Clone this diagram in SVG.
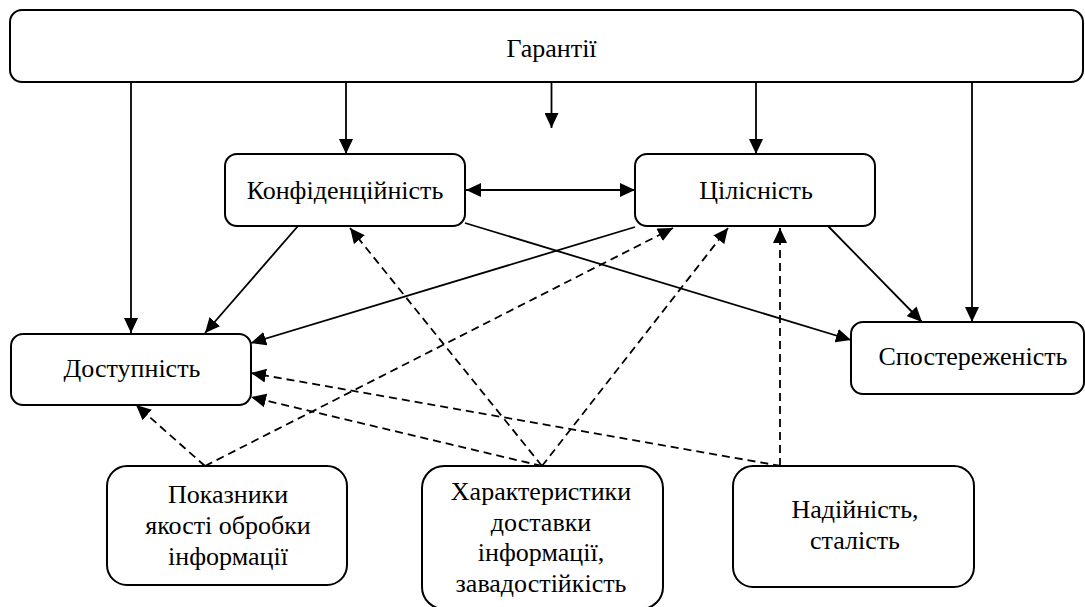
<svg xmlns="http://www.w3.org/2000/svg" width="1085" height="607" viewBox="0 0 1085 607" font-family="'Liberation Serif', 'DejaVu Serif', serif">
<style>
.box{fill:#fff;stroke:#000;stroke-width:2}
.t{font-family:'Liberation Serif','DejaVu Serif',serif;font-size:26px;fill:#000;text-anchor:middle}
.c{fill:none;stroke:#000;stroke-width:1.8}
.d{fill:none;stroke:#000;stroke-width:1.8;stroke-dasharray:8 5}
</style>
<defs>
<marker id="ah" markerUnits="userSpaceOnUse" markerWidth="16" markerHeight="14" refX="15" refY="7" orient="auto-start-reverse" viewBox="0 0 16 14">
<path d="M0,0 L15,7 L0,14 z" fill="#000"/>
</marker>
</defs>
<rect width="1085" height="607" fill="#fff"/>
<g id="connectors">
<path class="c" d="M131,82 V333" marker-end="url(#ah)"/>
<path class="c" d="M346,82 V154" marker-end="url(#ah)"/>
<path class="c" d="M551.5,82 V128" marker-end="url(#ah)"/>
<path class="c" d="M756,82 V154" marker-end="url(#ah)"/>
<path class="c" d="M972,82 V322" marker-end="url(#ah)"/>
<path class="c" d="M466,190 H635" marker-start="url(#ah)" marker-end="url(#ah)"/>
<path class="c" d="M298,226 L205,333" marker-end="url(#ah)"/>
<path class="c" d="M635,227 L251,343" marker-end="url(#ah)"/>
<path class="c" d="M465,223 L851,340" marker-end="url(#ah)"/>
<path class="c" d="M828,226 L922,322" marker-end="url(#ah)"/>
<path class="d" d="M205,466 L136,405" marker-end="url(#ah)"/>
<path class="d" d="M205,466 L673,228" marker-end="url(#ah)"/>
<path class="d" d="M542,466 L350,228" marker-end="url(#ah)"/>
<path class="d" d="M542,466 L728,228" marker-end="url(#ah)"/>
<path class="d" d="M542,466 L251,397" marker-end="url(#ah)"/>
<path class="d" d="M781,466 L251,373" marker-end="url(#ah)"/>
<path class="d" d="M780,466 V228" marker-end="url(#ah)"/>
</g>
<g id="garantii">
<rect class="box" x="10" y="10" width="1073" height="72" rx="12"/>
<text class="t" x="551.5" y="57">Гарантії</text>
</g>
<g id="konfidentsiinist">
<rect class="box" x="225" y="154" width="240" height="72" rx="12"/>
<text class="t" x="345" y="199">Конфіденційність</text>
</g>
<g id="tsilisnist">
<rect class="box" x="635" y="154" width="240" height="72" rx="12"/>
<text class="t" x="756" y="199">Цілісність</text>
</g>
<g id="dostupnist">
<rect class="box" x="11" y="334" width="240" height="71" rx="12"/>
<text class="t" x="132" y="377">Доступність</text>
</g>
<g id="sposterezhenist">
<rect class="box" x="851" y="322" width="233" height="72" rx="12"/>
<text class="t" x="973" y="365">Спостереженість</text>
</g>
<g id="pokaznyky">
<rect class="box" x="107" y="466" width="240" height="119" rx="20"/>
<text class="t" x="228" y="503">Показники</text>
<text class="t" x="228" y="534">якості обробки</text>
<text class="t" x="228" y="565">інформації</text>
</g>
<g id="kharakterystyky">
<rect class="box" x="422" y="466" width="241" height="143" rx="22"/>
<text class="t" x="541" y="500">Характеристики</text>
<text class="t" x="541" y="530.5">доставки</text>
<text class="t" x="541" y="561">інформації,</text>
<text class="t" x="541" y="591.5">завадостійкість</text>
</g>
<g id="nadiinist">
<rect class="box" x="733" y="466" width="241" height="121" rx="20"/>
<text class="t" x="855" y="518">Надійність,</text>
<text class="t" x="855" y="549">сталість</text>
</g>
</svg>
